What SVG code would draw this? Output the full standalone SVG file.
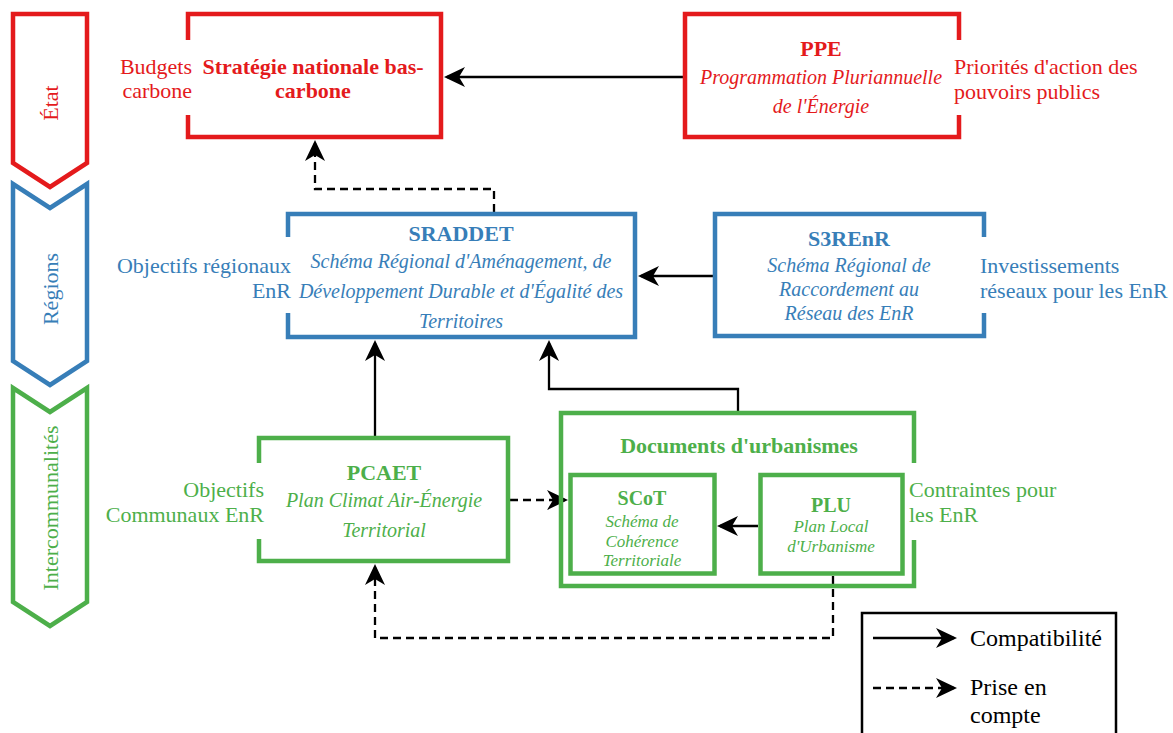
<svg xmlns="http://www.w3.org/2000/svg" width="1173" height="733" viewBox="0 0 1173 733">
<defs>
<style>
text{font-family:"Liberation Serif","Times New Roman",serif;}
.red{fill:#E41A1C}.blue{fill:#377EB8}.green{fill:#4DAF4A}.blk{fill:#000}
.lab{font-size:22px}
.tt{font-size:22px;font-weight:bold}
.it{font-size:20px;font-style:italic}
.its{font-size:17px;font-style:italic}
.tts{font-size:20px;font-weight:bold}
.bx{fill:none;stroke-width:4.5;stroke-linejoin:miter}
.sr{stroke:#E41A1C}.sb{stroke:#377EB8}.sg{stroke:#4DAF4A}
.c{fill:none;stroke:#000;stroke-width:2.3;marker-end:url(#ah)}
.d{stroke-dasharray:8 5}
</style>
<marker id="ah" markerUnits="userSpaceOnUse" viewBox="-23 -11 24 22" markerWidth="24" markerHeight="22" refX="-3" refY="0" orient="auto">
<path d="M0,0 L-21,-10 L-15,0 L-21,10 Z" fill="#000"/>
</marker>
</defs>

<g id="lane-etat">
<path class="bx sr" d="M13,14 L87,14 L87,163 L50,187 L13,163 Z"/>
<text class="red" font-size="22" text-anchor="middle" transform="translate(58,103) rotate(-90)">État</text>
</g>
<g id="lane-regions">
<path class="bx sb" d="M13,184 L50,208 L87,184 L87,361 L50,385 L13,361 Z"/>
<text class="blue" font-size="22" text-anchor="middle" transform="translate(58,289) rotate(-90)">Régions</text>
</g>
<g id="lane-interco">
<path class="bx sg" d="M13,388 L50,412 L87,388 L87,602 L50,626 L13,602 Z"/>
<text class="green" font-size="22" text-anchor="middle" transform="translate(58,508) rotate(-90)">Intercommunalités</text>
</g>

<g id="connectors">
<path class="c" d="M683,77 L447,77"/>
<path class="c d" d="M494,212 L494,189 L315,189 L315,143"/>
<path class="c" d="M713,276 L641,276"/>
<path class="c" d="M375,436 L375,343"/>
<path class="c" d="M738,411 L738,389 L549,389 L549,343"/>
<path class="c d" d="M510,500 L565,500"/>
<path class="c" d="M758,526 L720,526"/>
<path class="c d" d="M833,576 L833,638 L375,638 L375,567"/>
</g>

<g id="snbc">
<path class="bx sr" d="M188,40 L188,14 L441,14 L441,137 L188,137 L188,115"/>
<text class="red lab" x="192" y="74" text-anchor="end">Budgets</text>
<text class="red lab" x="192" y="98" text-anchor="end">carbone</text>
<text class="red tt" x="313" y="74" text-anchor="middle">Stratégie nationale bas-</text>
<text class="red tt" x="313" y="98" text-anchor="middle">carbone</text>
</g>

<g id="ppe">
<path class="bx sr" d="M959,40 L959,14 L685,14 L685,137 L959,137 L959,115"/>
<text class="red tt" x="821" y="56" text-anchor="middle">PPE</text>
<text class="red it" x="821" y="84" text-anchor="middle">Programmation Pluriannuelle</text>
<text class="red it" x="821" y="113" text-anchor="middle">de l'Énergie</text>
<text class="red lab" x="954" y="74">Priorités d'action des</text>
<text class="red lab" x="954" y="99">pouvoirs publics</text>
</g>

<g id="sraddet">
<path class="bx sb" d="M288,237 L288,214 L635,214 L635,337 L288,337 L288,313"/>
<text class="blue tt" x="461" y="241" text-anchor="middle">SRADDET</text>
<text class="blue it" x="461" y="268" text-anchor="middle">Schéma Régional d'Aménagement, de</text>
<text class="blue it" x="461" y="298" text-anchor="middle">Développement Durable et d'Égalité des</text>
<text class="blue it" x="461" y="328" text-anchor="middle">Territoires</text>
<text class="blue lab" x="291" y="273" text-anchor="end">Objectifs régionaux</text>
<text class="blue lab" x="291" y="298" text-anchor="end">EnR</text>
</g>

<g id="s3renr">
<path class="bx sb" d="M984,237 L984,214 L715,214 L715,336 L984,336 L984,313"/>
<text class="blue tt" x="849" y="246" text-anchor="middle">S3REnR</text>
<text class="blue it" x="849" y="272" text-anchor="middle">Schéma Régional de</text>
<text class="blue it" x="849" y="296" text-anchor="middle">Raccordement au</text>
<text class="blue it" x="849" y="320" text-anchor="middle">Réseau des EnR</text>
<text class="blue lab" x="980" y="273">Investissements</text>
<text class="blue lab" x="980" y="298">réseaux pour les EnR</text>
</g>

<g id="pcaet">
<path class="bx sg" d="M259,463 L259,438 L508,438 L508,561 L259,561 L259,539"/>
<text class="green tt" x="384" y="480" text-anchor="middle">PCAET</text>
<text class="green it" x="384" y="507" text-anchor="middle">Plan Climat Air-Énergie</text>
<text class="green it" x="384" y="537" text-anchor="middle">Territorial</text>
<text class="green lab" x="264" y="497" text-anchor="end">Objectifs</text>
<text class="green lab" x="264" y="522" text-anchor="end">Communaux EnR</text>
</g>

<g id="urbanisme">
<path class="bx sg" d="M914,463 L914,413 L561,413 L561,586 L914,586 L914,540"/>
<text class="green tt" x="739" y="453" text-anchor="middle">Documents d'urbanismes</text>
<text class="green lab" x="909" y="497">Contraintes pour</text>
<text class="green lab" x="909" y="522">les EnR</text>
</g>

<g id="scot">
<rect class="bx sg" x="570.5" y="475" width="144" height="98.5"/>
<text class="green tts" x="642" y="505" text-anchor="middle">SCoT</text>
<text class="green its" x="642" y="527" text-anchor="middle">Schéma de</text>
<text class="green its" x="642" y="547" text-anchor="middle">Cohérence</text>
<text class="green its" x="642" y="566" text-anchor="middle">Territoriale</text>
</g>

<g id="plu">
<rect class="bx sg" x="760.5" y="475" width="142" height="98.5"/>
<text class="green tts" x="831" y="512" text-anchor="middle">PLU</text>
<text class="green its" x="831" y="532" text-anchor="middle">Plan Local</text>
<text class="green its" x="831" y="552" text-anchor="middle">d'Urbanisme</text>
</g>

<g id="legend">
<rect x="862" y="613" width="254" height="140" fill="none" stroke="#000" stroke-width="2.5"/>
<path class="c" d="M873,638 L954,638"/>
<path class="c d" d="M873,688 L954,688"/>
<text class="blk" font-size="24" x="970" y="646">Compatibilité</text>
<text class="blk" font-size="24" x="970" y="695">Prise en</text>
<text class="blk" font-size="24" x="970" y="723">compte</text>
</g>
</svg>
